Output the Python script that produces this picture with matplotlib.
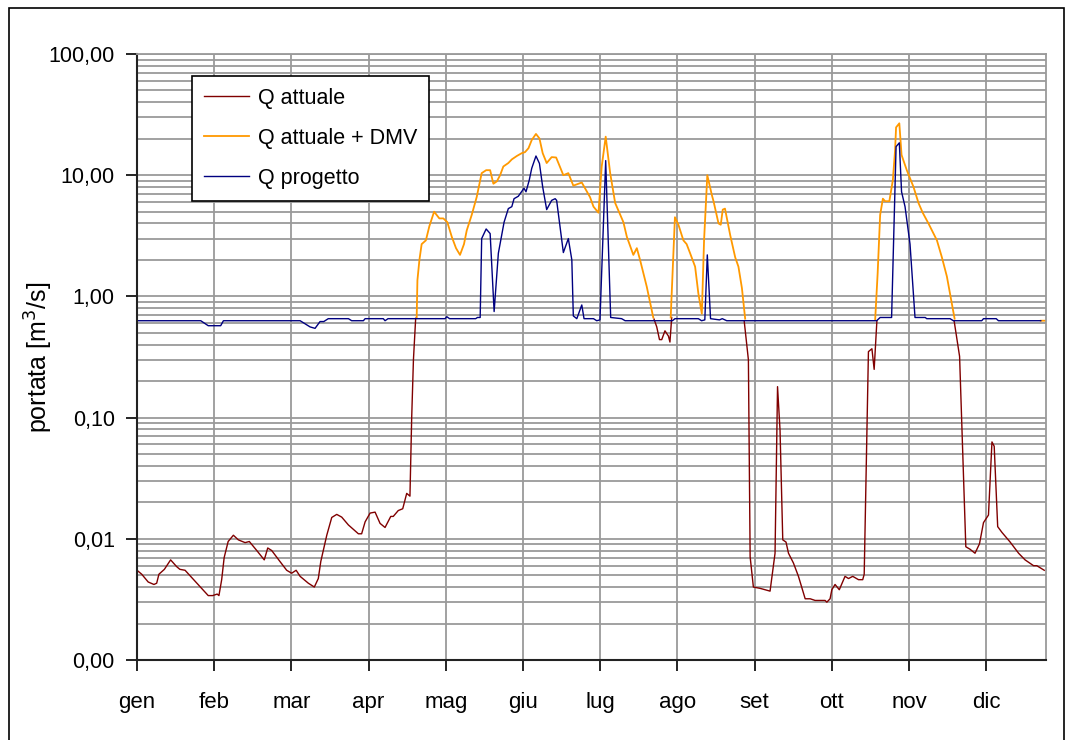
import numpy as np
import matplotlib
matplotlib.use("Agg")
import matplotlib.pyplot as plt
from matplotlib.patches import Rectangle
from matplotlib import font_manager

# month labels, one tick every 31 days
months = ["gen", "feb", "mar", "apr", "mag", "giu", "lug", "ago", "set", "ott", "nov", "dic"]
ytick_vals = [0.001, 0.01, 0.1, 1, 10, 100]
ytick_labels = ["0,00", "0,01", "0,10", "1,00", "10,00", "100,00"]

# Q attuale (only the low-flow parts, where it shows below the other lines)
q_att_days = [0, 1.9, 4.5, 6.8, 7.9, 8.8, 11, 13.5, 15.9, 17.2, 19.3, 28.6, 30.4, 32.2, 32.9, 34, 35,
              36.6, 38.7, 40.7, 43.4, 45.1, 48.1, 51.1, 52.5, 54.1, 57.4, 60.1, 62.1, 63.9, 65.5, 68.8,
              71.2, 72.8, 73.8, 76.2, 78.2, 80.2, 82.2, 84.9, 88.9, 90.2, 91.6, 93.6, 95.6, 97.6, 99.6,
              101.9, 102.9, 104.9, 106.7, 108.3, 109.6, 110.3, 111, 111.9, np.nan,
              207.6, 208.7, 209.8, 210.7, 212, 213.4, 214, 214.7, np.nan,
              243.8, 245.5, 246.2, 247.5, 250.2, 252.2, 254.2, 256.2, 257.2, 258.2, 259.3, 260.6, 261.6,
              263.6, 265.6, 268.3, 270.3, 272.3, 276.3, 277, 278.3, 279, 280.3, 282, 284.3, 285.7, 287.4,
              289.7, 291.4, 292, 293.7, 295.1, 296, 297.1, np.nan,
              328.1, 330.3, 332.8, 334.5, 336.5, 338.3, 339.9, 341.9, 343.3, 344.2, 345.6, 347.3, 350.6,
              354, 356.6, 360, 361.3, 364.3]
q_att_vals = [0.0055, 0.0051, 0.0044, 0.0042, 0.0043, 0.0051, 0.0056, 0.0067, 0.0059, 0.0056, 0.0055,
              0.0034, 0.0034, 0.0035, 0.0034, 0.0046, 0.0070, 0.0095, 0.0107, 0.0098, 0.0093, 0.0095,
              0.0080, 0.0067, 0.0084, 0.0080, 0.0065, 0.0055, 0.0052, 0.0055, 0.0049, 0.0043, 0.0040,
              0.0047, 0.0065, 0.0107, 0.0150, 0.0159, 0.0151, 0.0130, 0.0110, 0.0110, 0.0138, 0.0163,
              0.0166, 0.0134, 0.0124, 0.0153, 0.0153, 0.0171, 0.0177, 0.0237, 0.0225, 0.10, 0.30, 0.66,
              np.nan,
              0.65, 0.56, 0.44, 0.44, 0.52, 0.47, 0.42, 0.67, np.nan,
              0.63, 0.30, 0.0071, 0.0040, 0.0039, 0.0038, 0.0037, 0.0076, 0.18, 0.079, 0.0098, 0.0094,
              0.0076, 0.0063, 0.0049, 0.0032, 0.0032, 0.0031, 0.0031, 0.0030, 0.0032, 0.0038, 0.0042,
              0.0038, 0.0049, 0.0047, 0.0049, 0.0046, 0.0046, 0.0051, 0.35, 0.37, 0.25, 0.63, np.nan,
              0.63, 0.32, 0.0086, 0.0082, 0.0076, 0.0091, 0.0136, 0.0157, 0.063, 0.058, 0.0126, 0.0113,
              0.0094, 0.0076, 0.0067, 0.0060, 0.0060, 0.0055]

# Q attuale + DMV (low parts coincide with Q progetto, left out)
q_dmv_days = [112.3, 112.6, 113.4, 114.3, 116, 117.4, 119.3, 121.4, 123, 124.6, 126.4, 128.1, 129.7,
              131.3, 132.4, 134.4, 136.4, 138.4, 140.2, 141.8, 143.1, 144.5, 145.8, 147.1, 149.1, 150.5,
              152.5, 154.5, 155.8, 157.2, 158.5, 160.2, 161.6, 162.9, 164.5, 166.5, 168.3, 171.2, 173.2,
              175.2, 178.6, 181.9, 183.3, 185.3, 186.6, 188.2, 190, 192, 195.3, 196.7, 199.3, 200.7, 202,
              204.7, 207.3, np.nan,
              214.3, 216, 217.4, 219.4, 220.7, 222.1, 224.1, 225.4, 226.8, 227.7, 229, 230.8, 231.5,
              233.5, 234.4, 235.2, 236.1, 238.2, 240.2, 241.5, 242.9, 244.2, np.nan,
              296.4, 297.4, 298.4, 299.5, 300.4, 302.1, 303.5, 304.4, 304.8, 306.1, 307, 309.1, 311.8,
              313.8, 315.5, 317.8, 321.2, 323.2, 325.2, 328.3, np.nan,
              362.9, 365]
q_dmv_vals = [0.67, 1.36, 2.0, 2.7, 2.9, 3.8, 5.0, 4.4, 4.4, 4.1, 3.1, 2.5, 2.2, 2.7, 3.5, 4.7, 6.6,
              10.4, 11.0, 11.0, 8.5, 8.9, 10.0, 11.8, 12.6, 13.5, 14.4, 15.2, 15.5, 16.7, 19.5, 21.9,
              20.1, 15.2, 12.6, 14.1, 14.0, 10.0, 10.4, 8.2, 8.7, 6.6, 5.5, 4.9, 11.8, 20.8, 10.4, 5.9,
              4.1, 3.1, 2.2, 2.5, 2.0, 1.2, 0.67, np.nan,
              0.67, 4.5, 3.9, 2.9, 2.7, 2.27, 1.76, 1.06, 0.72, 2.9, 10.0, 6.9, 6.1, 4.0, 3.9, 5.2, 5.3,
              3.2, 2.1, 1.76, 1.17, 0.655, np.nan,
              0.64, 1.55, 4.7, 6.4, 6.1, 6.1, 9.1, 16.1, 24.8, 26.8, 14.7, 11.0, 8.0, 5.9, 4.9, 4.0, 2.9,
              2.1, 1.46, 0.655, np.nan,
              0.63, 0.63]

# Q progetto
q_prog_days = [0, 25.6, 28.6, 33.6, 34.7, 65.5, 69.5, 71.5, 73.5, 75, 76.8, 84.9, 86.2, 90.9, 91.6,
               98.9, 99.6, 100.8, 123.7, 124.4, 125.5, 136, 136.7, 137.8, 138.4, 140.2, 141.8, 143.4,
               145.1, 147.4, 149.1, 150.5, 151.4, 153.1, 155.4, 156.2, 157.5, 158.5, 160.2, 161.6, 162.9,
               164.5, 166.5, 167.9, 168.5, 171.2, 173.2, 174.6, 175.2, 176.6, 178.6, 179.5, 183.3, 184.6,
               185.9, 188.2, 190.2, 194.6, 196, 215, 216, 225.4, 226.7, 228, 229, 230.3, 233.9, 235,
               236.8, 297, 298.4, 303, 304.8, 306.1, 307, 308.4, 310.4, 312.4, 316.5, 317.1, 326.5,
               327.8, 339.2, 339.9, 345, 345.9, 362.9]
q_prog_vals = [0.63, 0.63, 0.573, 0.573, 0.63, 0.63, 0.56, 0.545, 0.62, 0.62, 0.655, 0.655, 0.63, 0.63,
               0.655, 0.655, 0.63, 0.655, 0.655, 0.68, 0.655, 0.655, 0.67, 0.67, 3.0, 3.6, 3.3, 0.75,
               2.27, 4.1, 5.3, 5.5, 6.4, 6.7, 7.8, 7.3, 9.1, 11.4, 14.4, 12.5, 8.0, 5.2, 6.2, 6.4, 6.2,
               2.3, 3.0, 2.0, 0.69, 0.655, 0.85, 0.655, 0.655, 0.63, 0.64, 13.2, 0.67, 0.655, 0.63, 0.63,
               0.655, 0.655, 0.63, 0.64, 2.2, 0.655, 0.64, 0.655, 0.63, 0.63, 0.67, 0.67, 17.2, 18.5,
               7.3, 5.5, 2.7, 0.67, 0.67, 0.655, 0.655, 0.63, 0.63, 0.655, 0.655, 0.63, 0.63]

available = {f.name for f in font_manager.fontManager.ttflist}
fam = "Liberation Sans Narrow" if "Liberation Sans Narrow" in available else "Liberation Sans"
plt.rcParams["font.family"] = [fam, "DejaVu Sans"]

fig = plt.figure(figsize=(10.73, 7.40), dpi=100)
ax = fig.add_axes([137 / 1073, 1 - 660 / 740, (1046 - 137) / 1073, (660 - 54) / 740])

ax.plot(q_att_days, q_att_vals, color="#800000", lw=1.0, label="Q attuale")
ax.plot(q_dmv_days, q_dmv_vals, color="#FF9900", lw=1.3, label="Q attuale + DMV")
ax.plot(q_prog_days, q_prog_vals, color="#000080", lw=1.0, label="Q progetto")

ax.set_yscale("log")
ax.set_ylim(0.001, 100)
ax.set_xlim(0, 365)
ax.set_yticks(ytick_vals)
ax.set_yticklabels(ytick_labels)
ax.set_xticks(np.arange(len(months)) * 31)
ax.set_xticklabels(months)
ax.yaxis.set_minor_locator(matplotlib.ticker.LogLocator(base=10, subs=np.arange(2, 10)))
ax.yaxis.set_minor_formatter(matplotlib.ticker.NullFormatter())

ax.grid(True, which="both", axis="y", color="#9a9a9a", lw=1.3)
ax.grid(True, which="major", axis="x", color="#9a9a9a", lw=1.3)
ax.set_axisbelow(True)
ax.tick_params(axis="y", which="major", direction="out", length=8, width=1.2, labelsize=15.5, pad=8)
ax.tick_params(axis="y", which="minor", length=0)
ax.tick_params(axis="x", direction="out", length=8, width=1.2, labelsize=16, pad=15)
for s in ["left", "bottom"]:
    ax.spines[s].set_color("#222222")
    ax.spines[s].set_linewidth(1.5)
for s in ["top", "right"]:
    ax.spines[s].set_color("#9a9a9a")
    ax.spines[s].set_linewidth(1.3)

ax.set_ylabel("portata [m$^3$/s]", fontsize=18)
ax.yaxis.set_label_coords(-0.09, 0.5)

leg = ax.legend(loc="upper left", bbox_to_anchor=(0.0605, 0.9637), borderaxespad=0, fontsize=15.5,
                fancybox=False, framealpha=1, edgecolor="black", handlelength=2.1,
                handletextpad=0.4, labelspacing=0.88, borderpad=0.55)
leg.get_frame().set_linewidth(1.2)

fig.patches.append(Rectangle((9 / 1073, -0.01), (1064 - 9) / 1073, 1 - 8 / 740 + 0.01,
                             transform=fig.transFigure, fill=False, edgecolor="black", lw=1.2))

fig.savefig("out.png", dpi=100)
